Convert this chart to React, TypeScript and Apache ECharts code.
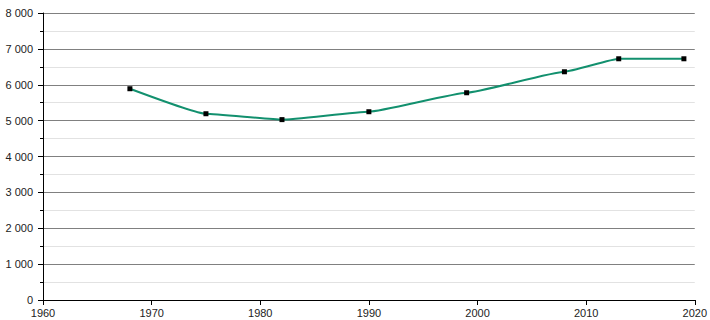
import React, { useEffect, useRef } from "react";
import * as echarts from "echarts";

const years = [1968, 1975, 1982, 1990, 1999, 2008, 2013, 2019];
const population = [5889, 5192, 5028, 5248, 5777, 6362, 6724, 6724];
const xTicks = [1960, 1970, 1980, 1990, 2000, 2010, 2020];
const yTicks = [0, 1000, 2000, 3000, 4000, 5000, 6000, 7000, 8000];

const fmt = (v: number) => {
  const s = String(Math.round(v));
  return s.replace(/\B(?=(\d{3})+(?!\d))/g, " ");
};

export default function App() {
  const ref = useRef<HTMLDivElement>(null);
  useEffect(() => {
    document.body.style.margin = "0";
    if (!ref.current) return;
    const chart = echarts.init(ref.current, undefined, { renderer: "svg" });
    chart.setOption({
      animation: false,
      backgroundColor: "#ffffff",
      grid: { left: 43, right: 14, top: 13, bottom: 20, containLabel: false },
      xAxis: {
        type: "value",
        min: xTicks[0],
        max: xTicks[xTicks.length - 1],
        interval: 10,
        axisLine: { show: true, lineStyle: { color: "#000", width: 1 } },
        axisTick: { show: true, length: 5, lineStyle: { color: "#000" } },
        axisLabel: {
          color: "#222",
          fontFamily: "Liberation Sans, Arial, sans-serif",
          fontSize: 11,
          margin: 7,
          formatter: (v: number) => String(v),
        },
        splitLine: { show: false },
      },
      yAxis: {
        type: "value",
        min: yTicks[0],
        max: yTicks[yTicks.length - 1],
        interval: 1000,
        axisLine: { show: true, lineStyle: { color: "#000", width: 1 } },
        axisTick: { show: true, length: 5, lineStyle: { color: "#000" } },
        minorTick: { show: true, splitNumber: 2, length: 3, lineStyle: { color: "#000" } },
        axisLabel: {
          color: "#222",
          fontFamily: "Liberation Sans, Arial, sans-serif",
          fontSize: 11,
          margin: 10,
          formatter: (v: number) => fmt(v),
        },
        splitLine: { show: true, lineStyle: { color: "#808080", width: 1 } },
        minorSplitLine: { show: true, lineStyle: { color: "#e2e2e2", width: 1 } },
      },
      series: [
        {
          type: "line",
          data: years.map((y, i) => [y, population[i]]),
          smooth: 0.12,
          smoothMonotone: "x",
          symbol: "rect",
          symbolSize: 5,
          itemStyle: { color: "#000" },
          lineStyle: { color: "#12906e", width: 2 },
          z: 3,
        },
      ],
    });
    return () => chart.dispose();
  }, []);
  return <div ref={ref} style={{ width: 710, height: 320 }} />;
}
